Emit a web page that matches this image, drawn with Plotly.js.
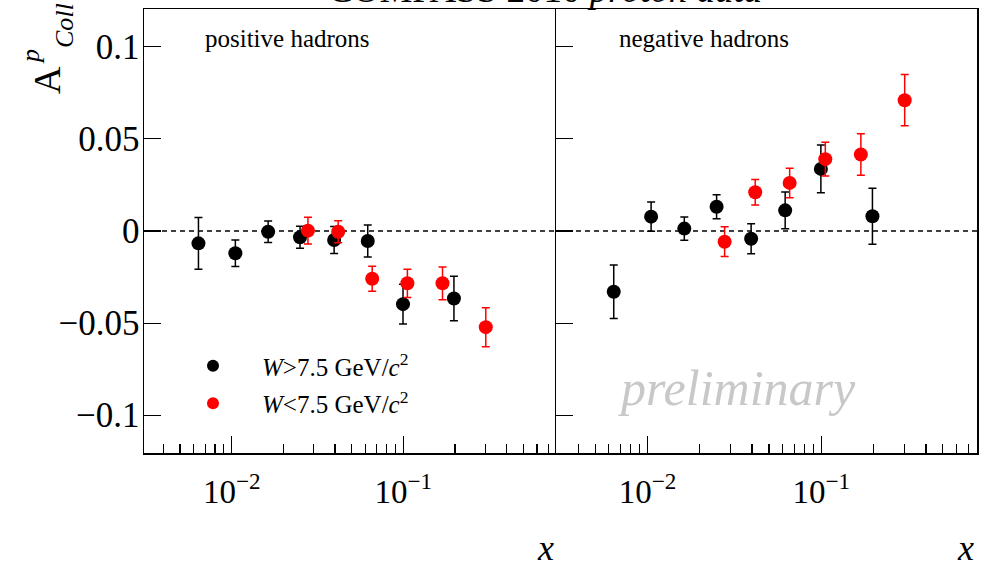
<!DOCTYPE html>
<html>
<head>
<meta charset="utf-8">
<script src="https://cdn.plot.ly/plotly-3.0.1.min.js"></script>
<style>html,body{margin:0;padding:0;background:#fff;}#chart{width:981px;height:567px;}</style>
</head>
<body>
<div id="chart"></div>
<script>
// ---- data ----
var xHigh = [0.0064, 0.0105, 0.0163, 0.025, 0.0395, 0.062, 0.0995, 0.197];
var xLow  = [0.0278, 0.0417, 0.0658, 0.1055, 0.169, 0.302];

var posHigh    = [-0.0067, -0.0121, -0.0004, -0.0034, -0.0049, -0.0054, -0.0397, -0.0366];
var posHighErr = [0.0140, 0.0072, 0.0058, 0.0060, 0.0073, 0.0087, 0.0108, 0.0121];
var posLow     = [0.0002, -0.0004, -0.0259, -0.0284, -0.0284, -0.0522];
var posLowErr  = [0.0072, 0.0060, 0.0068, 0.0077, 0.0089, 0.0106];

var negHigh    = [-0.0330, 0.0078, 0.0013, 0.0132, -0.0042, 0.0112, 0.0337, 0.0080];
var negHighErr = [0.0145, 0.0080, 0.0063, 0.0065, 0.0082, 0.0100, 0.0130, 0.0152];
var negLow     = [-0.0058, 0.0210, 0.0261, 0.0390, 0.0415, 0.0710];
var negLowErr  = [0.0081, 0.0069, 0.0080, 0.0092, 0.0113, 0.0139];

var seriesNames = ['<i>W</i>&gt;7.5 GeV/<i>c</i><sup>2</sup>', '<i>W</i>&lt;7.5 GeV/<i>c</i><sup>2</sup>'];
var panelLabels = ['positive hadrons', 'negative hadrons'];
var xTickVals = [0.01, 0.1];
var xTickText = ['10<sup>\u22122</sup>', '10<sup>\u22121</sup>'];
var yTickVals = [-0.1, -0.05, 0, 0.05, 0.1];
var yTickText = ['\u22120.1', '\u22120.05', '0', '0.05', '0.1'];

// ---- layout helpers ----
var W = 981, H = 567, ML = 144, MR = 4, MT = 9, MB = 114;
var PW = W - ML - MR, PH = H - MT - MB;
function px(x){ return (x - ML) / PW; }
function py(y){ return (H - MB - y) / PH; }
var split = px(556);
var FONT = '"Liberation Serif", "Times New Roman", Times, serif';

var minorVals = [];
[0.001, 0.01, 0.1].forEach(function(d){ for (var k = 2; k <= 9; k++) minorVals.push(k * d); });

function mk(color){ return {color: color, size: 14, symbol: 'circle', line: {width: 0}}; }
function eb(arr, color){ return {type: 'data', array: arr, symmetric: true, color: color, thickness: 1.5, width: 4}; }

var traces = [
  {x: xHigh, y: posHigh, error_y: eb(posHighErr, '#000'), mode: 'markers', marker: mk('#000'),
   name: seriesNames[0], xaxis: 'x', yaxis: 'y', legendgroup: 'a', showlegend: true},
  {x: xLow, y: posLow, error_y: eb(posLowErr, '#ff0000'), mode: 'markers', marker: mk('#ff0000'),
   name: seriesNames[1], xaxis: 'x', yaxis: 'y', legendgroup: 'b', showlegend: true},
  {x: xHigh, y: negHigh, error_y: eb(negHighErr, '#000'), mode: 'markers', marker: mk('#000'),
   name: seriesNames[0], xaxis: 'x2', yaxis: 'y2', showlegend: false},
  {x: xLow, y: negLow, error_y: eb(negLowErr, '#ff0000'), mode: 'markers', marker: mk('#ff0000'),
   name: seriesNames[1], xaxis: 'x2', yaxis: 'y2', showlegend: false}
];

function xax(domain, range){
  return {type: 'log', domain: domain, range: range, showgrid: false, zeroline: false,
    showline: true, linecolor: '#000', linewidth: 1.5, mirror: true,
    ticks: 'inside', ticklen: 17, tickwidth: 1.2, tickcolor: '#000',
    tickmode: 'array', tickvals: xTickVals, ticktext: xTickText,
    tickfont: {family: FONT, size: 33, color: '#000'}, ticklabelstandoff: 9,
    minor: {tickmode: 'array', tickvals: minorVals, ticks: 'inside', ticklen: 9, tickwidth: 1.2, tickcolor: '#000', showgrid: false}};
}
function yax(anchor, showLabels, mirror){
  return {anchor: anchor, domain: [0, 1], range: [-0.1205, 0.1205], showgrid: false, zeroline: false,
    showline: true, linecolor: '#000', linewidth: 1.5, mirror: mirror,
    ticks: 'inside', ticklen: 17, tickwidth: 1.2, tickcolor: '#000',
    tickmode: 'array', tickvals: yTickVals, ticktext: yTickText, showticklabels: showLabels,
    tickfont: {family: FONT, size: 35, color: '#000'}, ticklabelstandoff: -4};
}

function ann(text, x, y, size, opts){
  var a = {text: text, xref: 'paper', yref: 'paper', x: px(x), y: py(y), xanchor: 'center', yanchor: 'middle',
    showarrow: false, font: {family: FONT, size: size, color: '#000'}};
  for (var k in opts) a[k] = opts[k];
  return a;
}

var layout = {
  width: W, height: H, margin: {l: ML, r: MR, t: MT, b: MB, pad: 0},
  paper_bgcolor: '#fff', plot_bgcolor: '#fff', showlegend: true,
  xaxis: xax([0, split], [-2.511, -0.111]),
  yaxis: yax('x', true, false),
  xaxis2: xax([split, 1], [-2.526, -0.104]),
  yaxis2: yax('x2', false, true),
  legend: {x: px(164), y: py(343), xanchor: 'left', yanchor: 'top', bgcolor: 'rgba(0,0,0,0)', borderwidth: 0,
    font: {family: FONT, size: 25, color: '#000'}, itemwidth: 88, traceorder: 'grouped', tracegroupgap: 2,
    itemsizing: 'constant'},
  shapes: [{type: 'line', xref: 'paper', yref: 'y', x0: 0, x1: 1, y0: 0, y1: 0, layer: 'below',
    line: {color: '#000', width: 1.3, dash: '5px,4px'}}],
  annotations: [
    {text: 'COMPASS 2010 <i>proton data</i>', xref: 'paper', yref: 'paper', x: px(545), y: 1, yshift: -3,
     xanchor: 'center', yanchor: 'bottom', showarrow: false, font: {family: FONT, size: 37, color: '#000'}},
    ann(panelLabels[0], 287, 38, 25),
    ann(panelLabels[1], 704, 38, 25),
    ann('<i>preliminary</i>', 737, 388, 50, {font: {family: FONT, size: 50, color: '#c8c8c8'}}),
    ann('<i>x</i>', 545, 548, 36),
    ann('<i>x</i>', 965, 548, 36),
    ann('A', 47, 80, 38, {textangle: -90}),
    ann('<i>p</i>', 30, 57, 26, {textangle: -90}),
    ann('<i>Coll</i>', 64, 26, 26, {textangle: -90})
  ]
};

Plotly.newPlot('chart', traces, layout, {displayModeBar: false, staticPlot: true});
</script>
</body>
</html>
